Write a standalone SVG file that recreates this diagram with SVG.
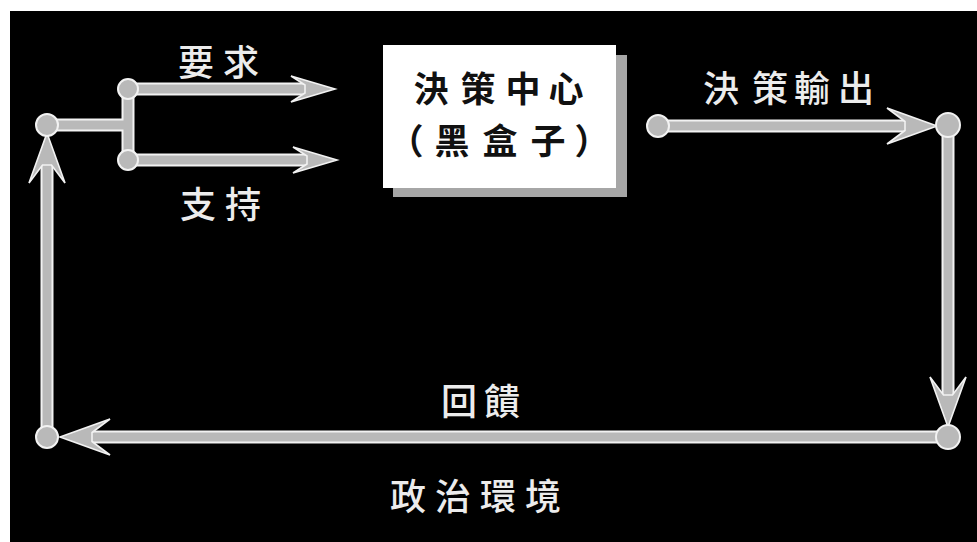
<svg xmlns="http://www.w3.org/2000/svg" width="977" height="542" viewBox="0 0 977 542">
<style>
.edge{fill:none;stroke:#f2f2f2;stroke-width:13;stroke-linecap:butt}
.core{fill:none;stroke:#b9b9b9;stroke-width:9;stroke-linecap:butt}
.head{fill:#b9b9b9;stroke:#f2f2f2;stroke-width:1.6;stroke-linejoin:miter}
.dot{fill:#b9b9b9;stroke:#f2f2f2;stroke-width:2}
.lbl{font-family:"Noto Sans CJK TC","Noto Sans CJK SC",sans-serif;font-size:36px;font-weight:500;fill:#ececec;text-anchor:middle}
.box{font-family:"Noto Sans CJK TC","Noto Sans CJK SC",sans-serif;font-size:35px;font-weight:700;fill:#111;text-anchor:middle}
</style>
<defs>
<marker id="hs" markerUnits="userSpaceOnUse" orient="auto" refX="0" refY="0" markerWidth="60" markerHeight="40" overflow="visible">
<path class="head" d="M30,0 L-14,-13 L0,-4 L0,4 L-14,13 Z"/>
</marker>
<marker id="hb" markerUnits="userSpaceOnUse" orient="auto" refX="0" refY="0" markerWidth="70" markerHeight="50" overflow="visible">
<path class="head" d="M32,0 L-18,-18 L0,-4.5 L0,4.5 L-18,18 Z"/>
</marker>
</defs>
<rect x="0" y="0" width="977" height="542" fill="#ffffff"/>
<rect x="10" y="11" width="967" height="531" fill="#000000"/>

<g id="connectors">
<path class="edge" d="M47,125 H128 M128,89 V160"/>
<path class="core" d="M47,125 H128 M128,89 V160"/>
<path class="edge" d="M128,89 H305"/>
<path class="core" d="M128,89 H305" marker-end="url(#hs)"/>
<path class="edge" d="M128,160 H307"/>
<path class="core" d="M128,160 H307" marker-end="url(#hs)"/>
<path class="edge" d="M658,126 H905"/>
<path class="core" d="M658,126 H905" marker-end="url(#hb)"/>
<path class="edge" d="M948,125 V395"/>
<path class="core" d="M948,125 V395" marker-end="url(#hb)"/>
<path class="edge" d="M948,437 H92"/>
<path class="core" d="M948,437 H92" marker-end="url(#hb)"/>
<path class="edge" d="M47,437 V165"/>
<path class="core" d="M47,437 V165" marker-end="url(#hb)"/>
</g>

<g id="input-source"><circle class="dot" cx="47" cy="125" r="11"/></g>
<g id="junction-demand"><circle class="dot" cx="128" cy="89" r="10"/></g>
<g id="junction-support"><circle class="dot" cx="128" cy="160" r="10"/></g>
<g id="output-source"><circle class="dot" cx="658" cy="126" r="11"/></g>
<g id="corner-top-right"><circle class="dot" cx="948" cy="125" r="12"/></g>
<g id="corner-bottom-right"><circle class="dot" cx="948" cy="437" r="12"/></g>
<g id="corner-bottom-left"><circle class="dot" cx="47" cy="437" r="11"/></g>

<g id="decision-center">
<rect x="393" y="55" width="234" height="142" fill="#a6a6a6"/>
<rect x="383" y="45" width="233" height="143" fill="#ffffff"/>
<text class="box" x="431 478 523 566" y="102">決策中心</text>
<text class="box" x="406 452 500 548 592" y="154">（黑盒子）</text>
</g>

<g id="label-demand"><text class="lbl" x="196 241" y="76">要求</text></g>
<g id="label-support"><text class="lbl" x="198 243" y="218">支持</text></g>
<g id="label-output"><text class="lbl" x="721 770 812 856" y="102">決策輸出</text></g>
<g id="label-feedback"><text class="lbl" x="459 502" y="415">回饋</text></g>
<g id="label-environment"><text class="lbl" x="408 453 498 543" y="510">政治環境</text></g>
</svg>
